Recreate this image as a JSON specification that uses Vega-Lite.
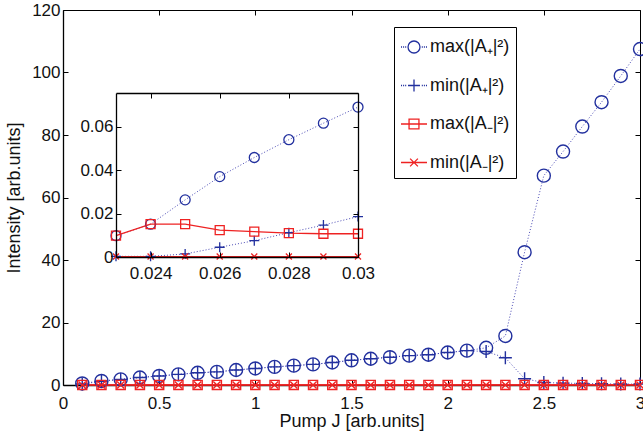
{
"$schema":"https://vega.github.io/schema/vega-lite/v6.json",
"width":577,"height":375,
"autosize":"none",
"padding":{"left":63,"top":10,"right":3,"bottom":53},
"background":"white",
"config":{
 "view":{"stroke":null},
 "font":"Liberation Sans",
 "axis":{"grid":false,"domainColor":"#000","domainWidth":1.3,"tickColor":"#000","tickWidth":1,"labelFont":"Liberation Sans","labelFontSize":17,"labelColor":"#111","titleFont":"Liberation Sans","titleFontSize":18,"titleFontWeight":"normal","titleColor":"#111","labelFlush":false,"labelOverlap":false,"labelBound":false}
},
"datasets":{
 "main":[
  {"J":0.1,"a":0.5,"b":0.3,"c":0.02,"d":0},
  {"J":0.2,"a":1.3,"b":1.2,"c":0.02,"d":0},
  {"J":0.3,"a":1.8,"b":1.8,"c":0.02,"d":0},
  {"J":0.4,"a":2.4,"b":2.4,"c":0.02,"d":0},
  {"J":0.5,"a":2.9,"b":2.9,"c":0.02,"d":0},
  {"J":0.6,"a":3.4,"b":3.4,"c":0.02,"d":0},
  {"J":0.7,"a":3.9,"b":3.9,"c":0.02,"d":0},
  {"J":0.8,"a":4.2,"b":4.2,"c":0.02,"d":0},
  {"J":0.9,"a":4.8,"b":4.8,"c":0.02,"d":0},
  {"J":1.0,"a":5.3,"b":5.3,"c":0.02,"d":0},
  {"J":1.1,"a":5.8,"b":5.8,"c":0.02,"d":0},
  {"J":1.2,"a":6.2,"b":6.2,"c":0.02,"d":0},
  {"J":1.3,"a":6.6,"b":6.6,"c":0.02,"d":0},
  {"J":1.4,"a":7.2,"b":7.2,"c":0.02,"d":0},
  {"J":1.5,"a":7.9,"b":7.9,"c":0.02,"d":0},
  {"J":1.6,"a":8.4,"b":8.4,"c":0.02,"d":0},
  {"J":1.7,"a":8.9,"b":8.9,"c":0.02,"d":0},
  {"J":1.8,"a":9.4,"b":9.4,"c":0.02,"d":0},
  {"J":1.9,"a":9.7,"b":9.7,"c":0.02,"d":0},
  {"J":2.0,"a":10.4,"b":10.4,"c":0.02,"d":0},
  {"J":2.1,"a":11.0,"b":11.0,"c":0.02,"d":0},
  {"J":2.2,"a":11.9,"b":10.7,"c":0.02,"d":0},
  {"J":2.3,"a":15.7,"b":8.7,"c":0.02,"d":0},
  {"J":2.4,"a":42.5,"b":2.0,"c":0.02,"d":0},
  {"J":2.5,"a":67.0,"b":0.8,"c":0.02,"d":0},
  {"J":2.6,"a":74.7,"b":0.6,"c":0.02,"d":0},
  {"J":2.7,"a":82.7,"b":0.5,"c":0.02,"d":0},
  {"J":2.8,"a":90.5,"b":0.4,"c":0.02,"d":0},
  {"J":2.9,"a":98.9,"b":0.3,"c":0.02,"d":0},
  {"J":3.0,"a":107.5,"b":0.3,"c":0.02,"d":0}
 ],
 "inset":[
  {"J":0.023,"a":0.0098,"b":0.0003,"c":0.0098,"d":0.0002},
  {"J":0.024,"a":0.0151,"b":0.0003,"c":0.0151,"d":0.0002},
  {"J":0.025,"a":0.0263,"b":0.0014,"c":0.0151,"d":0.0002},
  {"J":0.026,"a":0.037,"b":0.0045,"c":0.0124,"d":0.0002},
  {"J":0.027,"a":0.0458,"b":0.0075,"c":0.0117,"d":0.0002},
  {"J":0.028,"a":0.054,"b":0.0112,"c":0.011,"d":0.0002},
  {"J":0.029,"a":0.0616,"b":0.0147,"c":0.0107,"d":0.0002},
  {"J":0.030,"a":0.069,"b":0.0186,"c":0.0107,"d":0.0002}
 ],
 "leg":[{"s":"max(|A₊|²)"},{"s":"min(|A₊|²)"},{"s":"max(|A₋|²)"},{"s":"min(|A₋|²)"}]
},
"layer":[
 {"data":{"name":"main"},
  "layer":[
   {"mark":{"type":"line","color":"#4a4ab5","strokeWidth":1,"strokeDash":[1,2]},
    "encoding":{
     "x":{"field":"J","type":"quantitative","scale":{"domain":[0,3],"nice":false,"zero":false},"axis":{"orient":"bottom","values":[0,0.5,1,1.5,2,2.5,3],"format":"~g","tickSize":-5,"labelPadding":15,"title":"Pump J [arb.units]","titlePadding":1}},
     "y":{"field":"a","type":"quantitative","scale":{"domain":[0,120],"nice":false},"axis":{"orient":"left","values":[0,20,40,60,80,100,120],"tickSize":-5,"labelPadding":8,"title":"Intensity [arb.units]","titlePadding":8}}}},
   {"mark":{"type":"line","color":"#4a4ab5","strokeWidth":1,"strokeDash":[1,2]},
    "encoding":{
     "x":{"field":"J","type":"quantitative","scale":{"domain":[0,3],"nice":false,"zero":false},"axis":{"orient":"top","values":[0,0.5,1,1.5,2,2.5,3],"tickSize":-5,"labels":false,"title":null,"domainWidth":1}},
     "y":{"field":"b","type":"quantitative","scale":{"domain":[0,120],"nice":false},"axis":{"orient":"right","values":[0,20,40,60,80,100,120],"tickSize":-5,"labels":false,"title":null,"domainWidth":1}}}},
   {"mark":{"type":"line","color":"#ee2222","strokeWidth":1.3},
    "encoding":{
     "x":{"field":"J","type":"quantitative","scale":{"domain":[0,3],"nice":false,"zero":false},"axis":null},
     "y":{"field":"c","type":"quantitative","scale":{"domain":[0,120],"nice":false},"axis":null}}},
   {"mark":{"type":"line","color":"#ee2222","strokeWidth":1.3},
    "encoding":{
     "x":{"field":"J","type":"quantitative","scale":{"domain":[0,3],"nice":false,"zero":false},"axis":null},
     "y":{"field":"d","type":"quantitative","scale":{"domain":[0,120],"nice":false},"axis":null}}},
   {"mark":{"type":"point","shape":"circle","filled":false,"color":"#22309e","size":169,"strokeWidth":1.4,"opacity":1},
    "encoding":{
     "x":{"field":"J","type":"quantitative","scale":{"domain":[0,3],"nice":false,"zero":false},"axis":null},
     "y":{"field":"a","type":"quantitative","scale":{"domain":[0,120],"nice":false},"axis":null}}},
   {"mark":{"type":"point","shape":"M-1,0H1M0,-1V1","filled":false,"color":"#22309e","size":169,"strokeWidth":1.4,"opacity":1},
    "encoding":{
     "x":{"field":"J","type":"quantitative","scale":{"domain":[0,3],"nice":false,"zero":false},"axis":null},
     "y":{"field":"b","type":"quantitative","scale":{"domain":[0,120],"nice":false},"axis":null}}},
   {"mark":{"type":"point","shape":"M-0.7,-0.7H0.7V0.7H-0.7Z","filled":false,"color":"#ee2222","size":169,"strokeWidth":1.4,"opacity":1},
    "encoding":{
     "x":{"field":"J","type":"quantitative","scale":{"domain":[0,3],"nice":false,"zero":false},"axis":null},
     "y":{"field":"c","type":"quantitative","scale":{"domain":[0,120],"nice":false},"axis":null}}},
   {"mark":{"type":"point","shape":"M-0.55,-0.55L0.55,0.55M-0.55,0.55L0.55,-0.55","filled":false,"color":"#ee2222","size":169,"strokeWidth":1.4,"opacity":1},
    "encoding":{
     "x":{"field":"J","type":"quantitative","scale":{"domain":[0,3],"nice":false,"zero":false},"axis":null},
     "y":{"field":"d","type":"quantitative","scale":{"domain":[0,120],"nice":false},"axis":null}}},
   {"data":{"name":"leg"},
    "mark":{"type":"point","filled":false,"opacity":0},
    "encoding":{
     "shape":{"field":"s","type":"nominal","sort":null,
      "scale":{"domain":["max(|A₊|²)","min(|A₊|²)","max(|A₋|²)","min(|A₋|²)"],
       "range":["M-1,0H-0.92M-0.84,0H-0.76M-0.68,0H-0.6M0.6,0H0.68M0.76,0H0.84M0.92,0H1M-0.46,0A0.46,0.46 0 1,0 0.46,0A0.46,0.46 0 1,0 -0.46,0",
                "M-1,0H-0.92M-0.84,0H-0.76M-0.68,0H-0.6M0.6,0H0.68M0.76,0H0.84M0.92,0H1M-0.46,0H0.46M0,-0.46V0.46",
                "M-1,0H1M-0.38,-0.38H0.38V0.38H-0.38Z",
                "M-1,0H1M-0.3,-0.3L0.3,0.3M-0.3,0.3L0.3,-0.3"]},
      "legend":{"title":null,"orient":"none","legendX":331,"legendY":17,"symbolSize":676,"symbolStrokeWidth":1.3,"symbolOpacity":1,"symbolFillColor":"transparent","labelFont":"Liberation Sans","labelFontSize":18,"labelColor":"#111","padding":6,"rowPadding":15.5,"strokeColor":"#000","fillColor":"#fff","labelOffset":2,"encode":{"legend":{"update":{"strokeWidth":{"value":1.5}}}}}},
     "color":{"field":"s","type":"nominal","sort":null,
      "scale":{"domain":["max(|A₊|²)","min(|A₊|²)","max(|A₋|²)","min(|A₋|²)"],"range":["#22309e","#22309e","#ee2222","#ee2222"]},
      "legend":{"title":null,"orient":"none","legendX":331,"legendY":17,"symbolSize":676,"symbolStrokeWidth":1.3,"symbolOpacity":1,"symbolFillColor":"transparent","labelFont":"Liberation Sans","labelFontSize":18,"labelColor":"#111","padding":6,"rowPadding":15.5,"strokeColor":"#000","fillColor":"#fff","labelOffset":2,"encode":{"legend":{"update":{"strokeWidth":{"value":1.5}}}}}}}}
  ],
  "resolve":{"axis":{"x":"independent","y":"independent"}}
 },
 {"data":{"name":"inset"},
  "layer":[
   {"data":{"values":[{}]},
    "mark":{"type":"rect","fill":"white"},
    "encoding":{
     "x":{"datum":0.023,"type":"quantitative","scale":{"domain":[0.023,0.03],"range":[53,295],"nice":false,"zero":false},"axis":{"orient":"bottom","offset":-128,"values":[0.024,0.026,0.028,0.03],"format":"~g","tickSize":-5,"labelPadding":13,"title":null,"zindex":1}},
     "x2":{"datum":0.03},
     "y":{"datum":0,"type":"quantitative","scale":{"domain":[0,0.0755],"range":[247,83],"nice":false},"axis":{"orient":"left","offset":-53,"values":[0,0.02,0.04,0.06],"format":"~g","tickSize":-5,"labelPadding":8,"title":null,"zindex":1}},
     "y2":{"datum":0.0755}}},
   {"mark":{"type":"line","color":"#4a4ab5","strokeWidth":1,"strokeDash":[1,2]},
    "encoding":{
     "x":{"field":"J","type":"quantitative","scale":{"domain":[0.023,0.03],"range":[53,295],"nice":false,"zero":false},"axis":{"orient":"top","offset":-83,"values":[0.024,0.026,0.028,0.03],"tickSize":-5,"labels":false,"title":null,"zindex":1}},
     "y":{"field":"a","type":"quantitative","scale":{"domain":[0,0.0755],"range":[247,83],"nice":false},"axis":{"orient":"right","offset":-282,"values":[0,0.02,0.04,0.06],"tickSize":-5,"labels":false,"title":null,"zindex":1}}}},
   {"mark":{"type":"line","color":"#4a4ab5","strokeWidth":1,"strokeDash":[1,2]},
    "encoding":{
     "x":{"field":"J","type":"quantitative","scale":{"domain":[0.023,0.03],"range":[53,295],"nice":false,"zero":false},"axis":null},
     "y":{"field":"b","type":"quantitative","scale":{"domain":[0,0.0755],"range":[247,83],"nice":false},"axis":null}}},
   {"mark":{"type":"line","color":"#ee2222","strokeWidth":1.3},
    "encoding":{
     "x":{"field":"J","type":"quantitative","scale":{"domain":[0.023,0.03],"range":[53,295],"nice":false,"zero":false},"axis":null},
     "y":{"field":"c","type":"quantitative","scale":{"domain":[0,0.0755],"range":[247,83],"nice":false},"axis":null}}},
   {"mark":{"type":"line","color":"#ee2222","strokeWidth":1.3},
    "encoding":{
     "x":{"field":"J","type":"quantitative","scale":{"domain":[0.023,0.03],"range":[53,295],"nice":false,"zero":false},"axis":null},
     "y":{"field":"d","type":"quantitative","scale":{"domain":[0,0.0755],"range":[247,83],"nice":false},"axis":null}}},
   {"mark":{"type":"point","shape":"circle","filled":false,"color":"#22309e","size":100,"strokeWidth":1.3,"opacity":1},
    "encoding":{
     "x":{"field":"J","type":"quantitative","scale":{"domain":[0.023,0.03],"range":[53,295],"nice":false,"zero":false},"axis":null},
     "y":{"field":"a","type":"quantitative","scale":{"domain":[0,0.0755],"range":[247,83],"nice":false},"axis":null}}},
   {"mark":{"type":"point","shape":"M-1,0H1M0,-1V1","filled":false,"color":"#22309e","size":100,"strokeWidth":1.3,"opacity":1},
    "encoding":{
     "x":{"field":"J","type":"quantitative","scale":{"domain":[0.023,0.03],"range":[53,295],"nice":false,"zero":false},"axis":null},
     "y":{"field":"b","type":"quantitative","scale":{"domain":[0,0.0755],"range":[247,83],"nice":false},"axis":null}}},
   {"mark":{"type":"point","shape":"M-0.9,-0.9H0.9V0.9H-0.9Z","filled":false,"color":"#ee2222","size":100,"strokeWidth":1.3,"opacity":1},
    "encoding":{
     "x":{"field":"J","type":"quantitative","scale":{"domain":[0.023,0.03],"range":[53,295],"nice":false,"zero":false},"axis":null},
     "y":{"field":"c","type":"quantitative","scale":{"domain":[0,0.0755],"range":[247,83],"nice":false},"axis":null}}},
   {"mark":{"type":"point","shape":"M-0.6,-0.6L0.6,0.6M-0.6,0.6L0.6,-0.6","filled":false,"color":"#ee2222","size":100,"strokeWidth":1.3,"opacity":1},
    "encoding":{
     "x":{"field":"J","type":"quantitative","scale":{"domain":[0.023,0.03],"range":[53,295],"nice":false,"zero":false},"axis":null},
     "y":{"field":"d","type":"quantitative","scale":{"domain":[0,0.0755],"range":[247,83],"nice":false},"axis":null}}}
  ],
  "resolve":{"axis":{"x":"independent","y":"independent"}}
 }
],
"resolve":{"scale":{"x":"independent","y":"independent"}}
}
